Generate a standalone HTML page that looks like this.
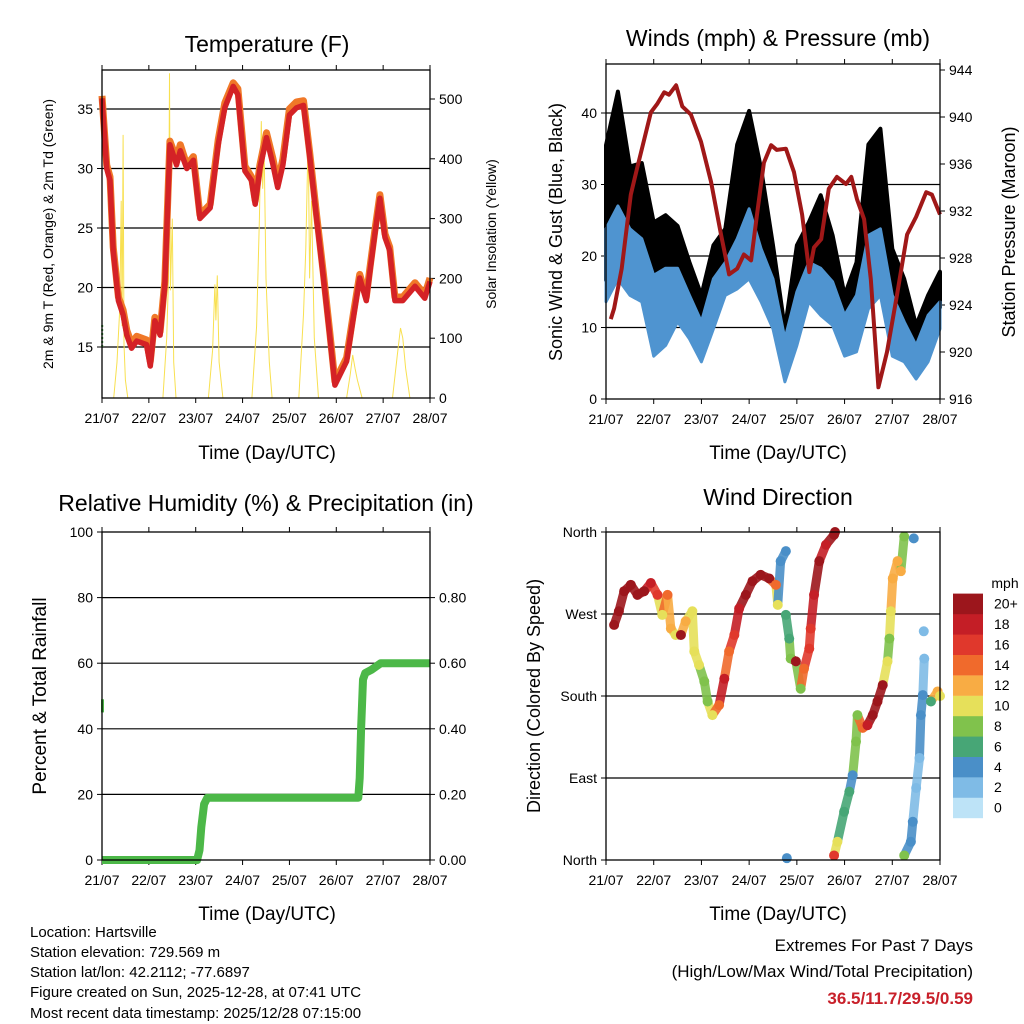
<!DOCTYPE html>
<html><head><meta charset="utf-8"><style>
body{margin:0;background:#fff;}
svg{display:block;font-family:"Liberation Sans",sans-serif;}
</style></head><body>
<svg id="c" width="1024" height="1024" viewBox="0 0 1024 1024">
<rect width="1024" height="1024" fill="#fff"/>
<text x="267" y="52" font-size="23" text-anchor="middle">Temperature (F)</text>
<text x="778" y="46" font-size="23" text-anchor="middle">Winds (mph) &amp; Pressure (mb)</text>
<text x="266" y="511" font-size="23" text-anchor="middle">Relative Humidity (%) &amp; Precipitation (in)</text>
<text x="778" y="505" font-size="23" text-anchor="middle">Wind Direction</text>
<text transform="translate(53,234) rotate(-90)" font-size="14" text-anchor="middle">2m &amp; 9m T (Red, Orange) &amp; 2m Td (Green)</text>
<text transform="translate(496,234) rotate(-90)" font-size="14" text-anchor="middle">Solar Insolation (Yellow)</text>
<text transform="translate(562,232) rotate(-90)" font-size="18" text-anchor="middle">Sonic Wind &amp; Gust (Blue, Black)</text>
<text transform="translate(1015,232) rotate(-90)" font-size="18" text-anchor="middle">Station Pressure (Maroon)</text>
<text transform="translate(46,696) rotate(-90)" font-size="19" text-anchor="middle">Percent &amp; Total Rainfall</text>
<text transform="translate(540,696) rotate(-90)" font-size="18" text-anchor="middle">Direction (Colored By Speed)</text>
<text x="267" y="459" font-size="19" text-anchor="middle">Time (Day/UTC)</text>
<text x="778" y="459" font-size="19" text-anchor="middle">Time (Day/UTC)</text>
<text x="267" y="920" font-size="19" text-anchor="middle">Time (Day/UTC)</text>
<text x="778" y="920" font-size="19" text-anchor="middle">Time (Day/UTC)</text>
<text x="1005" y="588" font-size="14" text-anchor="middle">mph</text>
<g font-size="15">
<text x="30" y="937">Location: Hartsville</text>
<text x="30" y="957">Station elevation: 729.569 m</text>
<text x="30" y="977">Station lat/lon: 42.2112; -77.6897</text>
<text x="30" y="997">Figure created on Sun, 2025-12-28, at 07:41 UTC</text>
<text x="30" y="1018">Most recent data timestamp: 2025/12/28 07:15:00</text>
</g>
<g font-size="17" text-anchor="end">
<text x="973" y="951">Extremes For Past 7 Days</text>
<text x="973" y="977">(High/Low/Max Wind/Total Precipitation)</text>
<text x="973" y="1004" fill="#c8202a" font-weight="bold">36.5/11.7/29.5/0.59</text>
</g>
</svg>
<script>
// ---- data ----
const dayLabels=["21/07","22/07","23/07","24/07","25/07","26/07","27/07","28/07"];
const tempDays=[0,.1,.17,.24,.35,.45,.53,.63,.74,.95,1.03,1.13,1.24,1.34,1.45,1.59,1.67,1.81,1.95,2.09,2.31,2.48,2.62,2.8,2.9,3.05,3.19,3.27,3.37,3.51,3.65,3.75,3.86,4.0,4.15,4.3,4.43,4.58,4.72,4.86,4.97,5.22,5.36,5.5,5.64,5.72,5.82,5.93,6.04,6.14,6.25,6.42,6.68,6.89,7];
const tempRed=[35.9,30.0,29,23.1,18.9,17.7,16,14.9,15.5,15.2,13.4,17.2,16,20.2,32,30.3,31.5,30,30.7,25.8,26.7,32,35.1,36.9,36.2,29.8,29,27,30,32.6,30.3,28.4,30.3,34.5,35.1,35.3,31.1,25.8,21,16,11.8,13.8,17.4,20.8,18.9,21.4,24.4,27.5,24.2,23.1,18.9,18.9,20.1,19.1,20.5];
const tempOrange=[36.1,30.3,29.3,23.4,19.2,18.1,16.4,15.3,15.9,15.6,13.8,17.5,16.3,20.5,32.3,30.8,32,30.3,31,26.1,27,32.4,35.5,37.2,36.7,30.2,29.3,27.3,30.3,33,30.8,28.8,30.8,35,35.6,35.7,31.4,26.1,21.3,16.3,12.1,14.1,17.7,21.1,19.2,21.7,24.7,27.8,24.5,23.4,19.2,19.2,20.4,19.4,20.8];
const dewDays=[0.005,0.005];
const dewVals=[15,17];
const solarDays=[0,.25,.32,.38,.41,.43,.45,.47,.5,.55,1.3,1.38,1.42,1.44,1.46,1.5,1.53,1.58,2.27,2.36,2.41,2.43,2.46,2.5,2.58,3.2,3.3,3.36,3.4,3.43,3.46,3.5,3.57,3.63,4.2,4.3,4.35,4.4,4.43,4.47,4.53,4.62,5.22,5.3,5.35,5.4,5.45,5.55,6.2,6.3,6.37,6.42,6.48,6.57,7];
const solarVals=[0,0,60,150,330,120,440,90,30,0,0,100,200,543,180,300,60,0,0,80,190,130,205,60,0,0,120,300,463,350,420,200,60,0,0,140,250,440,200,330,100,0,0,40,72,50,30,0,0,70,117,100,50,0,0];
const presDays=[.1,.17,.33,.52,.65,.94,1.07,1.22,1.32,1.47,1.6,1.78,1.99,2.2,2.41,2.58,2.75,2.89,3.04,3.17,3.31,3.46,3.58,3.77,3.94,4.11,4.26,4.36,4.51,4.67,4.84,5.03,5.14,5.26,5.41,5.55,5.71,5.89,6.1,6.31,6.5,6.71,6.83,7.0];
const presVals=[922.8,923.7,927.1,933.4,935.6,940.4,941.1,942.1,941.9,942.7,940.9,940.2,937.9,934.5,930,926.6,927.1,928.3,927.8,931.9,936.1,937.6,937.2,937.3,935.3,931.7,926.8,928.9,929.6,933.9,934.9,934.3,934.9,933,931.3,926.2,917,920,924.9,930,931.5,933.6,933.4,931.7];
const windDays=[0,.25,.5,.75,1,1.25,1.5,1.75,2,2.25,2.5,2.75,3,3.25,3.5,3.75,4,4.25,4.5,4.75,5,5.25,5.5,5.75,6,6.25,6.5,6.75,7];
const sonicLow=[13.6,16.8,14.5,13.6,6,7.5,10.8,8.4,5.2,9.8,14.5,15.4,16.8,13.6,9.8,2.4,7.5,13.6,11.7,10.3,6,6.6,12.6,14.5,6,5.2,2.8,5.2,9.8];
const sonicHigh=[23.8,27,23.8,22.4,17.3,18.3,18.3,14.5,10.8,16.8,19.1,22.4,26.6,21,16.8,8.4,15,19.1,18.3,16.4,11.7,14.5,22.9,23.8,14.5,10.8,7.5,11.7,13.6];
const gustHigh=[35.5,43,32.5,33,24.7,25.7,24.2,19.1,14.5,21.5,23.8,35.6,40.3,32.2,21.5,9.8,21.5,24.7,28.5,22.9,14.5,19.1,35.6,37.8,21,16.8,10.3,14.5,17.8];
const rainDays=[0,2.03,2.08,2.12,2.18,2.25,5.47,5.5,5.53,5.57,5.62,5.75,5.95,7];
const rainVals=[0,0,.03,.1,.17,.19,.19,.25,.4,.55,.57,.58,.6,.6];
const rhDays=[0.01,0.01];
const rhVals=[45,49];
const dirDays=[.17,.27,.38,.52,.66,.8,.94,1.08,1.18,1.29,1.36,1.46,1.57,1.67,1.81,1.85,1.95,2.06,2.13,2.23,2.37,2.48,2.58,2.69,2.79,2.93,3.07,3.24,3.42,3.56,3.6,3.66,3.77,3.77,3.84,3.87,3.98,4.08,4.15,4.26,4.29,4.36,4.47,4.61,4.78,4.8,4.78,4.85,4.99,5.1,5.17,5.24,5.27,5.38,5.48,5.59,5.69,5.8,5.9,5.94,5.97,6.01,6.11,6.18,6.25,6.25,6.39,6.43,6.5,6.57,6.6,6.64,6.67,6.66,6.45,6.81,6.95,3.79,7.0];
const dirVals=[258,273,295,302,291,295,304,291,269,291,254,247,247,262,273,229,214,196,174,159,170,199,229,247,276,291,306,313,309,302,280,328,339,269,243,221,218,188,210,232,254,291,328,346,357,360,5,20,53,75,93,130,159,145,148,159,174,192,218,243,273,309,328,317,355,5,20,42,79,112,159,181,221,251,353,174,185,2,180];
const dirSpeed=[20,20,20,20,19,19,18,15,9,13,11,10,19,11,10,9,9,7,7,9,14,17,14,15,18,19,20,20,19,14,9,3,4,5,6,8,19,8,13,16,15,18,19,17,19,20,16,9,6,5,4,7,7,13,17,19,20,20,10,8,10,12,11,12,7,7,4,4,2,2,3,4,2,2,3,5,11,4,10];
const speedColors=["#bde3f7","#7fbbe6","#4a8fc8","#47a676","#80c24c","#e6e05a","#f8ac44","#f06a2c","#e0382c","#c41e26","#9c161c"];
const speedLabels=["0","2","4","6","8","10","12","14","16","18","20+"];
const tempTicks=[15,20,25,30,35];
const solarTicks=[0,100,200,300,400,500];
const windTicks=[0,10,20,30,40];
const presTicks=[916,920,924,928,932,936,940,944];
const rhTicks=[0,20,40,60,80,100];
const rainTicks=[0,0.2,0.4,0.6,0.8];
const dirTicks=[0,90,180,270,360];
const dirNames=["North","East","South","West","North"];

// ---- helpers ----
const svg=document.getElementById('c');
const NS="http://www.w3.org/2000/svg";
function mk(tag,attrs,parent){const e=document.createElementNS(NS,tag);for(const k in attrs)e.setAttribute(k,attrs[k]);(parent||svg).appendChild(e);return e;}
function lin(d0,d1,r0,r1){return v=>r0+(v-d0)/(d1-d0)*(r1-r0);}
function poly(xs,ys,fx,fy){return xs.map((d,i)=>fx(d).toFixed(1)+","+fy(ys[i]).toFixed(1)).join(" ");}

const P=[{x0:102,x1:430,y0:70,y1:398,n:'temperature'},{x0:606,x1:940,y0:64,y1:399,n:'winds'},{x0:102,x1:430,y0:532,y1:860,n:'humidity'},{x0:606,x1:940,y0:532,y1:860,n:'direction'}];
P.forEach(p=>{p.fx=lin(0,7,p.x0,p.x1);});
const yT=v=>347-(v-15)*11.9, yS=v=>398-v*0.598;
const yW=v=>399-v*7.15, yP=v=>399-(v-916)*11.75;
const yR=v=>860-v*3.28, yPr=v=>860-v*328;
const yD=v=>860-v/360*328;

function gridAndAxes(p,ticks,fy,labels,rticks,rfy,rlabels){
  const g=mk('g',{});
  
  
  ticks.forEach((t,i)=>{
    const y=fy(t);
    if(y>p.y0+1&&y<p.y1-1){const gl=mk('line',{x1:p.x0,x2:p.x1,y1:y,y2:y,stroke:'#000','stroke-width':1.2},g);
      
      }
    mk('line',{x1:p.x0-5,x2:p.x0,y1:y,y2:y,stroke:'#000'},g);
    const tx=mk('text',{x:p.x0-9,y:y+5,'font-size':14,'text-anchor':'end'},g);tx.textContent=labels[i];
    
    
  });
  if(rticks){rticks.forEach((t,i)=>{const y=rfy(t);
    mk('line',{x1:p.x1,x2:p.x1+5,y1:y,y2:y,stroke:'#000'},g);
    const tx=mk('text',{x:p.x1+9,y:y+5,'font-size':14},g);tx.textContent=rlabels[i];
    
    });}
  dayLabels.forEach((l,i)=>{const x=p.fx(i);
    mk('line',{x1:x,x2:x,y1:p.y1,y2:p.y1+5,stroke:'#000'},g);
    mk('line',{x1:x,x2:x,y1:p.y0-5,y2:p.y0,stroke:'#000'},g);
    const tx=mk('text',{x:x,y:p.y1+25,'font-size':14,'text-anchor':'middle'},g);tx.textContent=l;
    
    });
}
function frame(p){const r=mk('rect',{x:p.x0,y:p.y0,width:p.x1-p.x0,height:p.y1-p.y0,fill:'none',stroke:'#000','stroke-width':1.3});
  
  }

// Panel 1
let p=P[0];
gridAndAxes(p,tempTicks,yT,tempTicks.map(String),solarTicks,yS,solarTicks.map(String));
let e=mk('polyline',{points:poly(solarDays,solarVals,p.fx,yS),fill:'none',stroke:'#f8e050','stroke-width':1});


e=mk('polyline',{points:poly(tempDays,tempOrange,p.fx,yT),fill:'none',stroke:'#f07828','stroke-width':7,'stroke-linejoin':'round'});


e=mk('polyline',{points:poly(tempDays,tempRed,p.fx,yT),fill:'none',stroke:'#d42226','stroke-width':5.5,'stroke-linejoin':'round'});


e=mk('polyline',{points:poly(dewDays,dewVals,p.fx,yT),fill:'none',stroke:'#3a9a3a','stroke-width':2,'stroke-dasharray':'2 2'});


frame(p);

// Panel 2
p=P[1];
gridAndAxes(p,windTicks,yW,windTicks.map(String),presTicks,yP,presTicks.map(String));
let pts=poly(windDays,gustHigh,p.fx,yW)+" "+poly(windDays.slice().reverse(),sonicLow.slice().reverse().map(v=>v+3),p.fx,yW);
e=mk('polygon',{points:pts,fill:'#000',stroke:'#000','stroke-width':4,'stroke-linejoin':'round'});


pts=poly(windDays,sonicHigh,p.fx,yW)+" "+poly(windDays.slice().reverse(),sonicLow.slice().reverse(),p.fx,yW);
e=mk('polygon',{points:pts,fill:'#4f94d0',stroke:'#4f94d0','stroke-width':3,'stroke-linejoin':'round'});


e=mk('polyline',{points:poly(presDays,presVals,p.fx,yP),fill:'none',stroke:'#a01818','stroke-width':4,'stroke-linejoin':'round'});


frame(p);

// Panel 3
p=P[2];
gridAndAxes(p,rhTicks,yR,rhTicks.map(String),rainTicks,yPr,rainTicks.map(v=>v.toFixed(2)));
e=mk('polyline',{points:poly(rainDays,rainVals,p.fx,yPr),fill:'none',stroke:'#4cb848','stroke-width':8,'stroke-linejoin':'round'});


e=mk('polyline',{points:poly(rhDays,rhVals,p.fx,yR),fill:'none',stroke:'#4cb848','stroke-width':3});


frame(p);

// Panel 4
p=P[3];
gridAndAxes(p,dirTicks,yD,dirNames,null);
const colIdx=s=>Math.min(10,Math.round(s/2));
for(let i=1;i<dirDays.length;i++){
  if(Math.abs(dirVals[i]-dirVals[i-1])<60&&dirDays[i]-dirDays[i-1]<0.2&&dirDays[i]>=dirDays[i-1]){
    const s=mk('line',{x1:p.fx(dirDays[i-1]),y1:yD(dirVals[i-1]),x2:p.fx(dirDays[i]),y2:yD(dirVals[i]),stroke:speedColors[colIdx(dirSpeed[i])],'stroke-width':9,'stroke-linecap':'round','stroke-opacity':0.9});
    
    
  }
}
dirDays.forEach((d,i)=>{
  const c=mk('circle',{cx:p.fx(d),cy:yD(dirVals[i]),r:5,fill:speedColors[colIdx(dirSpeed[i])]});
  
  
});
frame(p);

// Colorbar
speedColors.forEach((c,i)=>{
  const y=818-(i+1)*20.4;
  const r=mk('rect',{x:953,y:y,width:30,height:20.6,fill:c});
  
  
  const t=mk('text',{x:994,y:y+15,'font-size':14},svg);t.textContent=speedLabels[i];
  
  
});
</script>
</body></html>
